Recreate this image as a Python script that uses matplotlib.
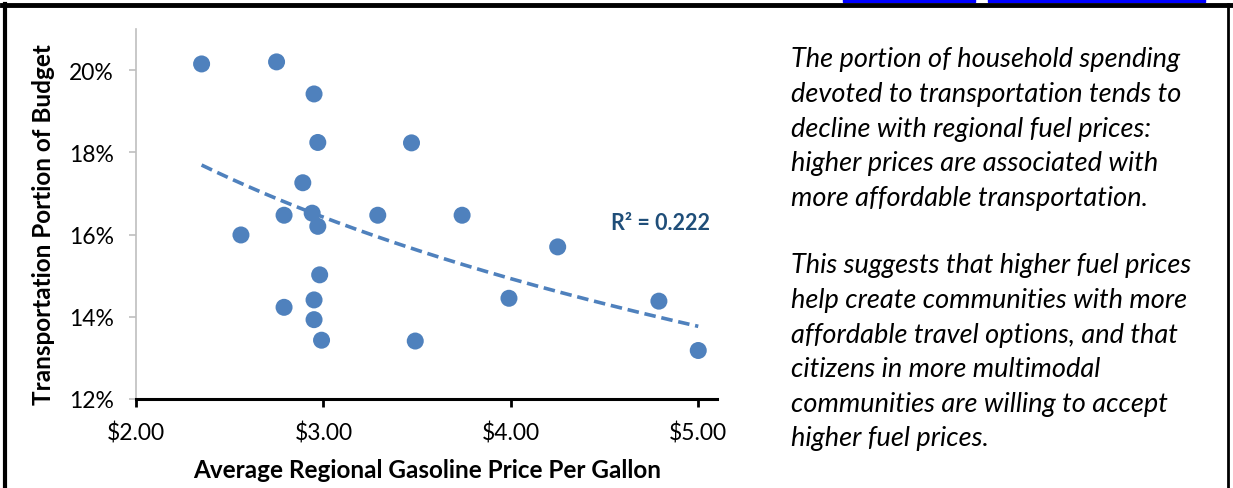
import numpy as np
import matplotlib.pyplot as plt
from matplotlib.patches import Rectangle

# regional gas price ($/gal) vs share of household budget spent on transportation (%)
price = [2.35, 2.75, 2.95, 2.97, 3.47, 2.89, 2.79, 2.94, 2.97, 3.29, 3.74,
         2.56, 4.25, 2.98, 2.95, 2.79, 2.95, 2.99, 3.49, 3.99, 4.79, 5.00]
share = [20.15, 20.20, 19.42, 18.24, 18.23, 17.26, 16.47, 16.52, 16.20, 16.47, 16.47,
         15.99, 15.70, 15.02, 14.41, 14.23, 13.93, 13.43, 13.41, 14.45, 14.38, 13.18]

x_ticks = [2, 3, 4, 5]
y_ticks = [12, 14, 16, 18, 20]
r2_label = "R² = 0.222"

para1 = ["The portion of household spending",
         "devoted to transportation tends to",
         "decline with regional fuel prices:",
         "higher prices are associated with",
         "more affordable transportation."]
para2 = ["This suggests that higher fuel prices",
         "help create communities with more",
         "affordable travel options, and that",
         "citizens in more multimodal",
         "communities are willing to accept",
         "higher fuel prices."]

plt.rcParams['font.family'] = ['Lato', 'DejaVu Sans']
blue = '#4f81bd'

fig = plt.figure(figsize=(12.33, 4.89), dpi=100)
ax = fig.add_axes([136 / 1233, 1 - 400 / 489, (717 - 136) / 1233, (400 - 30) / 489])

ax.scatter(price, share, s=150, color=blue, edgecolors='none', zorder=3)

# logarithmic trendline, like Excel's
px = np.array(price)
py = np.array(share)
b, a = np.polyfit(np.log(px), py, 1)
xs = np.linspace(px.min(), px.max(), 200)
ax.plot(xs, a + b * np.log(xs), color=blue, lw=2.6, dashes=(3.2, 1.6), zorder=2)
ax.text(0.9036, 0.478, r2_label, transform=ax.transAxes, color='#1f4e79',
        fontsize=15.5, fontweight='bold', ha='center', va='center')

ax.set_xlim(2, 5.1)
ax.set_ylim(12, 21)
ax.set_xticks(x_ticks)
ax.set_xticklabels([f"${t:.2f}" for t in x_ticks])
ax.set_yticks(y_ticks)
ax.set_yticklabels([f"{t}%" for t in y_ticks])

for side in ['top', 'right']:
    ax.spines[side].set_visible(False)
ax.spines['left'].set_color('#bfbfbf')
ax.spines['left'].set_linewidth(1.2)
ax.spines['bottom'].set_color('black')
ax.spines['bottom'].set_linewidth(2.2)
ax.tick_params(axis='y', colors='#bfbfbf', labelcolor='black', length=5, width=1.2,
               labelsize=16.5, pad=11)
ax.tick_params(axis='x', colors='black', length=6, width=2, labelsize=16.5, pad=10)

ax.set_ylabel("Transportation Portion of Budget", fontsize=17.5, fontweight='bold')
ax.yaxis.set_label_coords(-81 / 581, 0.473)
ax.set_xlabel("Average Regional Gasoline Price Per Gallon", fontsize=17.5, fontweight='bold')
ax.xaxis.set_label_coords(0.501, -59 / 370)

# commentary on the right
step = 34.6
for i, line in enumerate(para1):
    fig.text(791 / 1233, 1 - (60 + i * step) / 489, line, fontsize=19.5,
             style='italic', va='center', ha='left')
for i, line in enumerate(para2):
    fig.text(791 / 1233, 1 - (266 + i * step) / 489, line, fontsize=19.5,
             style='italic', va='center', ha='left')

# page frame
fig.add_artist(plt.Line2D([2 / 1233, 1231 / 1233], [1 - 6 / 489, 1 - 6 / 489],
                          transform=fig.transFigure, color='black', lw=3.5))
fig.add_artist(plt.Line2D([5 / 1233, 5 / 1233], [0, 1 - 5 / 489],
                          transform=fig.transFigure, color='black', lw=3))
fig.add_artist(plt.Line2D([1228 / 1233, 1228 / 1233], [0, 1 - 5 / 489],
                          transform=fig.transFigure, color='black', lw=2))
for x0, x1 in [(843, 975), (988, 1205)]:
    fig.add_artist(Rectangle((x0 / 1233, 1 - 3 / 489), (x1 - x0) / 1233, 3 / 489,
                             transform=fig.transFigure, color='#0000ff'))

fig.savefig("out.png", dpi=100)
